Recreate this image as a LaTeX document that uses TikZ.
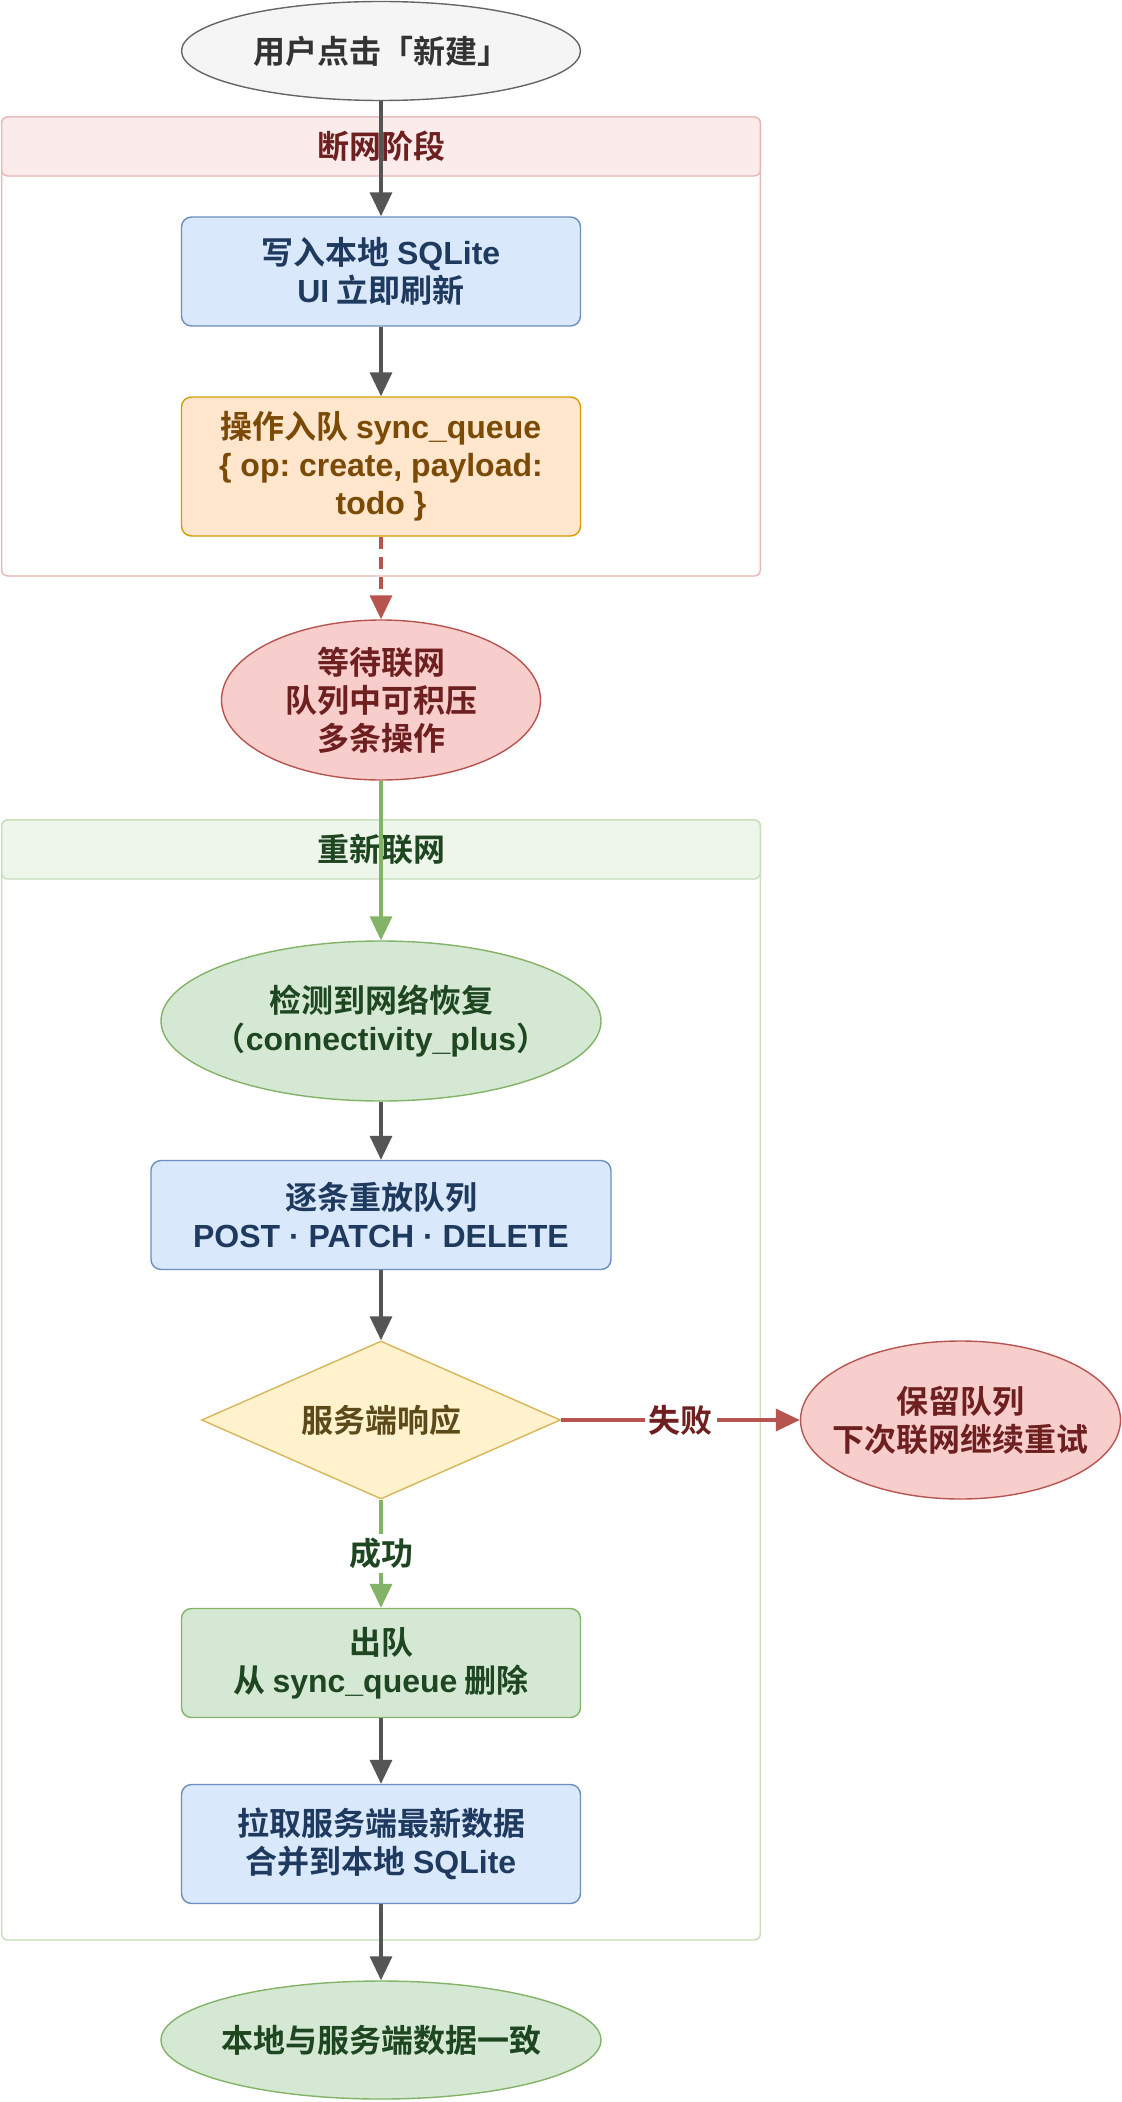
\documentclass[tikz,border=0pt]{standalone}
\usepackage{fontspec}
\setmainfont{Noto Sans CJK SC}[BoldFont={Noto Sans CJK SC Bold}]
\newfontfamily\latfont{Liberation Sans}
\newcommand{\lat}[1]{{\latfont\bfseries #1}}
\frenchspacing
\usetikzlibrary{shapes.geometric,arrows.meta}

\definecolor{cgray}{HTML}{555555}
\definecolor{startfill}{HTML}{F5F5F5}
\definecolor{startline}{HTML}{666666}
\definecolor{starttext}{HTML}{333333}
\definecolor{offline}{HTML}{E8B8B6}
\definecolor{offhead}{HTML}{FCEBEB}
\definecolor{redtext}{HTML}{6E1F1F}
\definecolor{bluefill}{HTML}{DAE8FC}
\definecolor{blueline}{HTML}{6C8EBF}
\definecolor{bluetext}{HTML}{1F3A5F}
\definecolor{orfill}{HTML}{FFE6CC}
\definecolor{orline}{HTML}{D79B00}
\definecolor{ortext}{HTML}{7A4A06}
\definecolor{redfill}{HTML}{F8CECC}
\definecolor{redline}{HTML}{B85450}
\definecolor{online}{HTML}{C6DEB9}
\definecolor{onhead}{HTML}{EEF5EA}
\definecolor{greenfill}{HTML}{D5E8D4}
\definecolor{greenline}{HTML}{82B366}
\definecolor{greentext}{HTML}{1E4620}
\definecolor{yelfill}{HTML}{FFF2CC}
\definecolor{yelline}{HTML}{D6B656}
\definecolor{yeltext}{HTML}{5C4A1A}

\tikzset{
  every node/.style={font=\fontsize{16pt}{19pt}\selectfont\bfseries, align=center},
  box/.style={draw, rounded corners=5pt, line width=0.7pt, minimum width=199.5pt, minimum height=54.5pt},
  oval/.style={ellipse, draw, line width=0.7pt, inner sep=0pt},
  lane/.style={draw, rounded corners=3pt, line width=0.7pt, fill=white, minimum width=379.3pt},
  lanehead/.style={draw, rounded corners=3pt, line width=0.7pt, minimum width=379.3pt, minimum height=29.5pt},
  flow/.style={-{Triangle[length=12pt,width=11pt]}, line width=1.7pt, draw=cgray},
  tag/.style={fill=white, inner sep=2pt}
}

\begin{document}
\begin{tikzpicture}[x=0.5pt, y=-0.5pt]
  \useasboundingbox (0,0) rectangle (1122,2102);

  % lanes
  \node[lane, draw=offline, minimum height=229.5pt] (lane1) at (381,346.5) {};
  \node[lanehead, draw=offline, fill=offhead, text=redtext] (lane1h) at (381,146.5) {断网阶段};
  \node[lane, draw=online, minimum height=560pt] (lane2) at (381,1380) {};
  \node[lanehead, draw=online, fill=onhead, text=greentext] (lane2h) at (381,849.5) {重新联网};

  \node[oval, fill=startfill, draw=startline, text=starttext, minimum width=199.5pt, minimum height=49.5pt] (start) at (381,51) {用户点击「新建」};

  \node[box, fill=bluefill, draw=blueline, text=bluetext] (w1) at (381,271.5) {写入本地 \lat{SQLite}\\\lat{UI} 立即刷新};
  \node[box, fill=orfill, draw=orline, text=ortext, minimum height=69.5pt] (q1) at (381,466.5) {操作入队 \lat{sync\_queue}\\\lat{\{ op: create, payload:}\\\lat{todo \}}};

  \node[oval, fill=redfill, draw=redline, text=redtext, minimum width=159.5pt, minimum height=80pt] (wait) at (381,700) {等待联网\\队列中可积压\\多条操作};

  \node[oval, fill=greenfill, draw=greenline, text=greentext, inner xsep=-14pt, minimum width=220pt, minimum height=80pt] (detect) at (381,1021) {检测到网络恢复\\（\lat{connectivity\_plus}）};
  \node[box, fill=bluefill, draw=blueline, text=bluetext, minimum width=230pt] (replay) at (381,1215) {逐条重放队列\\\lat{POST · PATCH · DELETE}};
  \node[diamond, aspect=2.27, line width=0.7pt, fill=yelfill, draw=yelline, text=yeltext, inner sep=0pt, minimum width=179.5pt, minimum height=79pt] (resp) at (381,1420) {服务端响应};
  \node[oval, fill=redfill, draw=redline, text=redtext, inner xsep=-12pt, minimum width=160pt, minimum height=79pt] (keep) at (960.5,1420) {保留队列\\下次联网继续重试};
  \node[box, fill=greenfill, draw=greenline, text=greentext] (deq) at (381,1663) {出队\\从 \lat{sync\_queue} 删除};
  \node[box, fill=bluefill, draw=blueline, text=bluetext, minimum height=59.5pt] (pull) at (381,1844) {拉取服务端最新数据\\合并到本地 \lat{SQLite}};

  \node[oval, fill=greenfill, draw=greenline, text=greentext, inner xsep=-6pt, minimum width=220pt, minimum height=59pt] (done) at (381,2040) {本地与服务端数据一致};

  % arrows
  \draw[flow] (start) -- (w1);
  \draw[flow] (w1) -- (q1);
  \draw[flow, draw=redline, dash pattern=on 6pt off 4pt] (q1) -- (wait);
  \draw[flow, draw=greenline] (wait) -- (detect);
  \draw[flow] (detect) -- (replay);
  \draw[flow] (replay) -- (resp);
  \draw[flow, draw=redline] (resp) -- node[tag, text=redtext] {失败} (keep);
  \draw[flow, draw=greenline] (resp) -- node[tag, text=greentext] {成功} (deq);
  \draw[flow] (deq) -- (pull);
  \draw[flow] (pull) -- (done);
\end{tikzpicture}
\end{document}
